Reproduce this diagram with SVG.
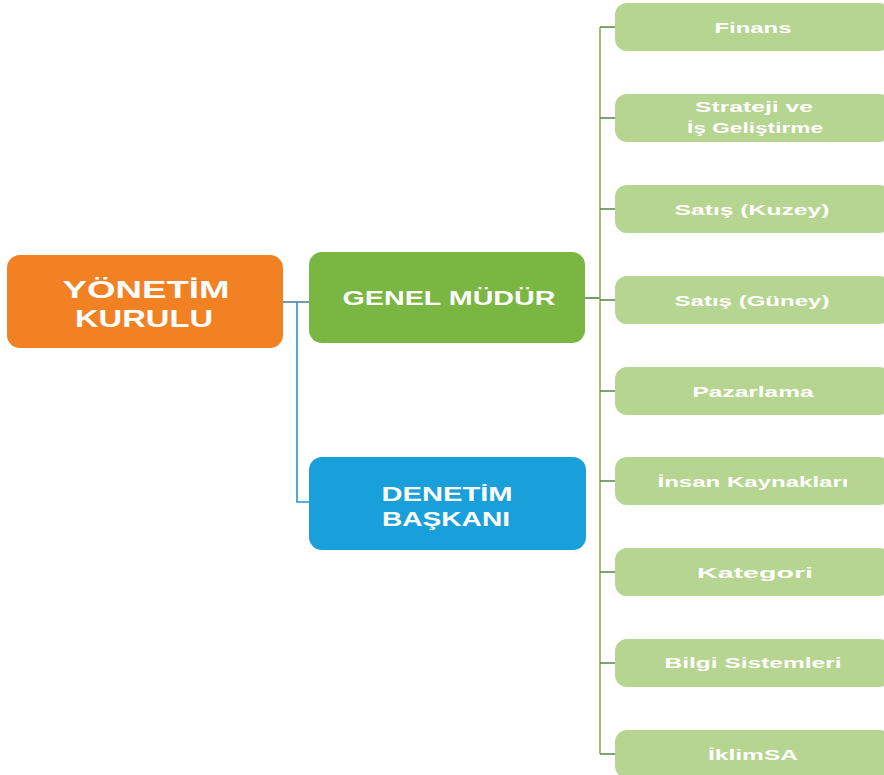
<svg xmlns="http://www.w3.org/2000/svg" width="884" height="775" viewBox="0 0 884 775">
<style>
.main{font-family:"Liberation Sans",Arial,sans-serif;font-weight:bold;fill:#ffffff;text-anchor:middle}
.sub{font-family:"Liberation Sans",Arial,sans-serif;font-weight:bold;font-size:14px;fill:#ffffff;text-anchor:middle}
.leaf{fill:#b6d590}
.cl{fill:none;stroke-width:1.6}
</style>
<rect width="884" height="775" fill="#ffffff"/>
<g id="connectors">
<path class="cl" d="M283 302 H309" stroke="#4f7f9a"/>
<path class="cl" d="M297 302 V502 H309" stroke="#2b93cc"/>
<path class="cl" d="M585 298 H600" stroke="#5f7f45"/>
<path class="cl" d="M600 27 V754" stroke="#8db255"/>
<path class="cl" d="M600 27 H615 M600 118 H615 M600 209 H615 M600 300 H615 M600 391 H615 M600 481 H615 M600 572 H615 M600 663 H615 M600 754 H615" stroke="#5f7f45"/>
</g>
<g id="yonetim">
<rect x="7" y="255" width="276" height="93" rx="13" fill="#f28124"/>
<text class="main" x="146" y="298" font-size="23" textLength="167" lengthAdjust="spacingAndGlyphs">YÖNETİM</text>
<text class="main" x="144" y="327" font-size="23" textLength="138" lengthAdjust="spacingAndGlyphs">KURULU</text>
</g>
<g id="genel">
<rect x="309" y="252" width="276" height="91" rx="13" fill="#7ab642"/>
<text class="main" x="449" y="305" font-size="21" textLength="213" lengthAdjust="spacingAndGlyphs">GENEL MÜDÜR</text>
</g>
<g id="denetim">
<rect x="309" y="457" width="277" height="93" rx="13" fill="#199fd9"/>
<text class="main" x="447" y="501" font-size="20" textLength="131" lengthAdjust="spacingAndGlyphs">DENETİM</text>
<text class="main" x="446" y="526" font-size="20" textLength="128" lengthAdjust="spacingAndGlyphs">BAŞKANI</text>
</g>
<g id="finans">
<rect class="leaf" x="615" y="3" width="276" height="48" rx="12"/>
<text class="sub" x="753" y="33" textLength="77" lengthAdjust="spacingAndGlyphs">Finans</text>
</g>
<g id="strateji">
<rect class="leaf" x="615" y="94" width="276" height="48" rx="12"/>
<text class="sub" x="754" y="112" textLength="118" lengthAdjust="spacingAndGlyphs">Strateji ve</text>
<text class="sub" x="755" y="133" textLength="136" lengthAdjust="spacingAndGlyphs">İş Geliştirme</text>
</g>
<g id="satis-kuzey">
<rect class="leaf" x="615" y="185" width="276" height="48" rx="12"/>
<text class="sub" x="752" y="215" textLength="155" lengthAdjust="spacingAndGlyphs">Satış (Kuzey)</text>
</g>
<g id="satis-guney">
<rect class="leaf" x="615" y="276" width="276" height="48" rx="12"/>
<text class="sub" x="752" y="306" textLength="155" lengthAdjust="spacingAndGlyphs">Satış (Güney)</text>
</g>
<g id="pazarlama">
<rect class="leaf" x="615" y="367" width="276" height="48" rx="12"/>
<text class="sub" x="753" y="397" textLength="121" lengthAdjust="spacingAndGlyphs">Pazarlama</text>
</g>
<g id="insan">
<rect class="leaf" x="615" y="457" width="276" height="48" rx="12"/>
<text class="sub" x="753" y="487" textLength="191" lengthAdjust="spacingAndGlyphs">İnsan Kaynakları</text>
</g>
<g id="kategori">
<rect class="leaf" x="615" y="548" width="276" height="48" rx="12"/>
<text class="sub" x="755" y="578" textLength="116" lengthAdjust="spacingAndGlyphs">Kategori</text>
</g>
<g id="bilgi">
<rect class="leaf" x="615" y="639" width="276" height="48" rx="12"/>
<text class="sub" x="753" y="668" textLength="177" lengthAdjust="spacingAndGlyphs">Bilgi Sistemleri</text>
</g>
<g id="iklimsa">
<rect class="leaf" x="615" y="730" width="276" height="48" rx="12"/>
<text class="sub" x="753" y="760" textLength="90" lengthAdjust="spacingAndGlyphs">İklimSA</text>
</g>
</svg>
